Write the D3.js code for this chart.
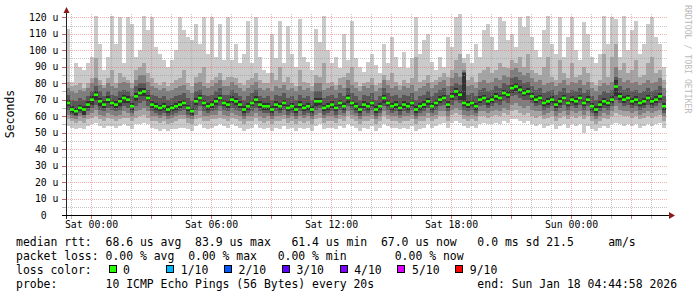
<!DOCTYPE html>
<html><head><meta charset="utf-8">
<script src="https://cdn.jsdelivr.net/npm/d3@7/dist/d3.min.js"></script>
<style>
body{margin:0;background:#fff;}
svg{display:block;font-family:"DejaVu Sans Mono",monospace;}
text{white-space:pre;}
</style></head><body>
<svg id="chart" width="697" height="297"></svg>
<script>
// SmokePing-style latency graph, 30h window ending Sun Jan 18 04:45 2026, 12-min columns.
const median = [68,64,63,65,64,67,70,73,69,67,70,68,67,69,71,70,66,72,74,75,71,67,66,65,66,64,65,66,67,68,65,63,69,71,68,66,67,69,71,68,67,70,69,67,64,66,68,70,67,66,
  66,64,67,66,68,65,66,64,67,65,66,64,69,69,65,66,67,65,68,66,71,68,66,64,67,66,68,64,66,71,68,66,67,65,67,66,68,64,66,67,69,66,68,70,71,67,72,75,73,68,
  67,68,66,70,71,69,70,72,71,74,73,77,78,76,74,75,72,70,71,68,69,70,67,69,71,68,70,69,71,68,70,66,64,67,69,68,70,78,72,70,71,69,70,68,69,71,69,70,72,66];
// sorted pings per column (ping1 = fastest ... ping10 = slowest)
const ping1 = [54,53,52,53,52,54,55,56,54,53,54,54,53,54,55,54,52,55,55,56,55,53,52,51,52,51,52,52,53,53,52,51,54,55,53,52,53,54,55,54,53,55,54,53,51,52,53,55,53,52,
  53,51,53,52,54,52,53,51,53,52,53,51,54,55,52,53,53,52,54,53,55,54,53,51,53,52,54,51,53,55,54,53,53,52,53,52,54,51,52,53,55,53,54,55,56,53,56,57,56,54,
  53,54,53,55,56,55,55,56,55,57,56,58,58,57,56,57,55,54,55,53,54,55,52,54,55,53,55,54,55,50,54,52,51,53,54,53,55,56,55,54,55,54,55,53,54,55,54,55,56,53];
const ping2 = [58,57,56,57,56,58,59,60,58,57,59,58,57,58,59,59,57,59,60,61,59,57,57,56,57,55,56,57,58,58,56,55,58,59,57,57,58,58,59,58,57,59,58,57,55,57,57,59,57,56,
  57,55,57,57,58,56,57,55,57,56,57,55,58,59,56,57,57,56,58,57,60,58,57,55,57,57,58,55,57,60,58,57,57,56,57,57,58,55,57,57,59,57,58,60,60,57,61,62,61,58,
  57,58,57,60,60,59,60,61,60,62,61,63,64,62,61,62,60,59,60,58,59,60,57,59,60,58,60,59,60,58,60,57,55,57,59,58,60,62,61,60,60,59,60,58,59,60,59,60,61,57];
const ping3 = [61,59,58,60,59,61,62,64,61,60,62,61,60,61,63,62,60,63,64,65,63,60,60,59,60,58,59,60,61,61,59,58,61,63,60,60,61,61,63,61,60,62,61,60,58,60,60,62,60,59,
  60,58,60,60,61,59,60,58,60,59,60,58,61,62,59,60,60,59,61,60,63,61,60,58,60,60,61,58,60,63,61,60,60,59,60,60,61,58,60,60,62,60,61,63,63,60,64,65,64,61,
  60,61,60,63,63,62,63,64,63,65,64,67,68,66,65,66,64,63,63,61,62,63,60,62,63,61,63,62,63,61,63,60,58,60,62,61,63,66,64,63,63,62,63,61,62,63,62,63,64,60];
const ping4 = [64,61,60,62,61,63,65,67,64,63,65,64,63,64,66,65,62,66,68,69,66,63,62,61,62,60,61,62,63,64,61,60,64,66,63,62,63,64,66,64,63,65,64,63,60,62,63,65,63,62,
  62,60,63,62,64,61,62,60,63,61,62,60,64,65,61,62,63,61,64,62,66,64,62,60,63,62,64,60,62,66,64,62,63,61,63,62,64,60,62,63,65,62,64,66,67,63,67,69,68,64,
  63,64,62,66,67,65,66,68,67,69,68,72,73,71,70,70,68,66,67,64,65,66,63,65,67,64,66,65,67,64,66,62,60,63,65,64,66,70,68,66,67,65,66,64,65,67,65,66,68,62];
const ping5 = [66,62,61,63,61,65,67,70,66,65,68,66,65,66,68,68,64,69,72,72,69,65,64,63,64,62,63,64,65,66,63,61,67,69,66,64,65,67,69,66,65,68,67,65,62,64,66,68,65,64,
  64,62,65,64,66,63,64,62,65,63,64,62,66,67,63,64,65,63,66,64,68,66,64,62,65,64,66,62,64,68,66,64,65,63,65,64,66,62,64,65,67,64,66,68,69,65,70,72,70,66,
  65,66,64,68,69,67,68,70,69,72,71,74,75,74,72,73,70,68,69,66,67,68,65,67,69,66,68,67,69,66,68,64,62,65,67,66,68,72,70,68,69,67,68,66,67,69,67,68,70,64];
const ping6 = [70,66,65,67,66,69,72,75,71,69,72,70,69,71,73,72,68,74,77,77,73,69,68,67,68,66,67,68,69,70,67,65,71,73,70,68,69,71,73,70,69,72,71,69,66,68,70,72,69,68,
  68,66,69,68,70,67,68,66,69,67,68,66,71,71,67,68,69,67,70,68,73,70,68,66,69,68,70,66,68,73,70,68,69,67,69,68,70,66,68,69,71,68,70,72,73,69,74,77,75,86,
  69,70,68,72,73,71,72,74,73,76,75,79,80,78,76,77,74,72,73,70,71,72,69,71,73,70,72,71,73,70,72,68,66,69,71,70,72,82,74,72,73,71,72,70,71,73,71,72,74,68];
const ping7 = [73,70,69,71,70,72,75,78,75,72,75,73,72,75,76,75,72,78,80,80,76,73,72,71,72,70,71,72,73,74,71,69,75,76,73,72,73,75,77,73,73,76,74,72,70,72,74,76,72,71,
  72,70,73,72,74,71,72,70,73,71,72,70,75,75,71,72,73,71,74,72,77,74,72,70,73,72,74,70,72,77,74,72,73,71,73,72,74,70,72,73,75,72,74,76,77,73,78,80,79,87,
  73,74,72,76,77,75,76,78,77,80,79,83,84,82,80,81,78,76,77,74,75,76,73,75,77,74,76,75,77,74,76,72,70,73,75,74,76,84,78,76,77,75,76,74,75,77,75,76,78,72];
const ping8 = [77,75,74,76,75,77,80,83,79,77,80,78,77,80,81,80,77,82,85,85,81,78,77,76,77,75,76,77,78,79,76,74,80,81,78,77,78,80,82,78,78,81,79,77,75,77,79,81,77,76,
  77,75,78,77,79,76,77,75,78,76,77,75,80,80,76,77,78,76,79,77,82,79,77,75,78,77,79,75,77,82,79,77,78,76,78,77,79,75,77,78,80,77,79,81,82,78,83,86,84,88,
  78,79,77,81,82,80,81,83,82,85,84,88,89,87,85,86,83,81,82,79,80,81,78,80,82,79,81,80,82,79,81,77,75,78,80,79,81,90,83,81,82,80,81,79,80,82,80,81,83,77];
const ping9 = [81,78,79,80,77,80,83,95,82,79,83,88,80,86,84,82,80,88,90,92,86,83,80,79,81,78,80,82,83,88,80,78,84,86,90,80,82,84,86,82,84,84,83,80,79,82,83,86,82,80,
  80,86,82,90,81,84,80,78,88,81,80,78,85,84,92,80,81,79,83,84,86,90,81,78,80,81,83,79,80,85,82,86,81,79,82,80,83,96,81,82,85,81,82,84,86,84,88,94,98,92,
  82,84,81,86,88,90,86,88,92,90,89,94,92,96,90,98,88,86,85,90,96,84,82,94,86,83,92,84,85,90,86,81,79,82,98,84,96,104,88,92,86,88,94,84,85,92,96,86,88,82];
const ping10 = [113,81,92,90,88,92,96,121,104,88,96,121,104,120,92,120,116,96,100,121,112,120,102,98,94,90,94,100,120,112,108,106,116,104,120,98,120,96,116,94,120,94,104,92,98,118,92,120,96,88,
  86,110,95,118,92,115,98,90,119,96,93,88,113,105,121,100,92,96,89,110,94,118,95,90,87,93,98,91,86,104,92,108,96,90,99,89,95,120,98,106,110,93,88,96,90,108,102,120,122,95,
  98,92,104,96,112,116,108,100,120,118,106,110,102,120,114,121,108,100,96,112,121,104,98,120,96,108,120,100,94,117,110,96,92,98,121,104,120,119,96,121,100,112,118,98,104,116,120,108,104,90];
const pings = [ping1, ping2, ping3, ping4, ping5, ping6, ping7, ping8, ping9, ping10];

const yTicks = d3.range(0, 121, 10);
const lossLabels = ["0", "1/10", "2/10", "3/10", "4/10", "5/10", "9/10"];
const lossColors = ["#26ff00", "#00b8ff", "#0059ff", "#5e00ff", "#7e00ff", "#dd00ff", "#ff0000"];
const legend = [
  "median rtt:  68.6 us avg  83.9 us max   61.4 us min  67.0 us now   0.0 ms sd 21.5     am/s",
  "packet loss: 0.00 % avg  0.00 % max   0.00 % min       0.00 % now",
  "loss color:",
  "probe:       10 ICMP Echo Pings (56 Bytes) every 20s               end: Sun Jan 18 04:44:58 2026"
];

const start = new Date(2026, 0, 16, 22, 45), end = new Date(2026, 0, 18, 4, 45);
const stepMin = 12, N = median.length;
const times = d3.range(N + 1).map(i => d3.timeMinute.offset(start, i * stepMin));

const svg = d3.select("#chart");
const x = d3.scaleTime().domain([start, end]).range([66, 666]);
const y = d3.scaleLinear().domain([0, 122]).range([215, 14]);
const smoke = ["#cacaca", "#a4a4a4", "#7e7e7e", "#585858", "#323232"];
const px = v => Math.round(v) + 0.5;

// smoke bands, outer pair lightest
smoke.forEach((c, k) => {
  const lo = pings[k], hi = pings[9 - k];
  const area = d3.area().curve(d3.curveStepAfter)
    .x(i => x(times[i])).y0(i => y(lo[Math.min(i, N - 1)])).y1(i => y(hi[Math.min(i, N - 1)]));
  svg.append("path").datum(d3.range(N + 1)).attr("fill", c).attr("shape-rendering", "crispEdges").attr("d", area);
});

// grid (dotted, on top of smoke)
const minorC = "rgba(150,150,150,0.55)", majorC = "rgba(235,80,80,0.45)";
const g = svg.append("g").attr("stroke-dasharray", "1,1").attr("stroke-width", 1);
d3.range(0, 121, 5).filter(v => v > 0).forEach(v => {
  g.append("line").attr("x1", 66).attr("x2", 667).attr("y1", px(y(v))).attr("y2", px(y(v)))
    .attr("stroke", v % 10 ? minorC : majorC);
});
x.ticks(d3.timeHour.every(1)).forEach(t => {
  g.append("line").attr("x1", px(x(t))).attr("x2", px(x(t))).attr("y1", 14).attr("y2", 215)
    .attr("stroke", t.getHours() % 3 ? minorC : majorC);
});

// median, coloured by loss
svg.append("g").selectAll("rect").data(median).join("rect")
  .attr("x", (d, i) => x(times[i])).attr("width", (d, i) => x(times[i + 1]) - x(times[i]))
  .attr("y", d => y(d) - 1.3).attr("height", 2.6).attr("fill", lossColors[0]);

// small ticks outside the axes
const tk = svg.append("g");
d3.range(0, 121, 5).forEach(v => tk.append("line").attr("x1", 62).attr("x2", 66)
  .attr("y1", px(y(v))).attr("y2", px(y(v))).attr("stroke", v % 10 ? "#bbb" : "#c66"));
x.ticks(d3.timeHour.every(1)).forEach(t => tk.append("line").attr("x1", px(x(t))).attr("x2", px(x(t)))
  .attr("y1", 215).attr("y2", 219).attr("stroke", t.getHours() % 3 ? "#bbb" : "#c66"));

// axes
svg.append("line").attr("x1", 66.5).attr("x2", 66.5).attr("y1", 219).attr("y2", 11).attr("stroke", "#222");
svg.append("line").attr("x1", 62).attr("x2", 670).attr("y1", 215.5).attr("y2", 215.5).attr("stroke", "#000");
svg.append("path").attr("d", "M63.5,13L69.5,13L66.5,7Z").attr("fill", "#8b1a1a");
svg.append("path").attr("d", "M669,212L669,219L675,215.5Z").attr("fill", "#8b1a1a");

const yAxis = svg.append("g").attr("transform", "translate(66,0)")
  .call(d3.axisLeft(y).tickValues(yTicks).tickSize(0).tickPadding(7.5)
    .tickFormat(v => v === 0 ? "0  " : v + " u"));
yAxis.select(".domain").remove();
yAxis.selectAll("text").attr("font-family", "DejaVu Sans Mono").attr("font-size", "9.8px").attr("fill", "#000");

const xAxis = svg.append("g").attr("transform", "translate(0,215)")
  .call(d3.axisBottom(x).ticks(d3.timeHour.every(6)).tickSize(0).tickPadding(6.5)
    .tickFormat(d3.timeFormat("%a %H:%M")));
xAxis.select(".domain").remove();
xAxis.selectAll("text").attr("font-family", "DejaVu Sans Mono").attr("font-size", "9.8px").attr("fill", "#000");

svg.append("text").attr("transform", "translate(13.5,114) rotate(-90)").attr("text-anchor", "middle")
  .attr("font-size", "11.5px").text("Seconds");
svg.append("text").attr("transform", "translate(685,5) rotate(90)").attr("font-size", "8.2px")
  .attr("fill", "#bbb").text("RRDTOOL / TOBI OETIKER");

// legend
svg.append("g").selectAll("text").data(legend).join("text")
  .attr("x", 16).attr("y", (d, i) => 245.5 + i * 14).attr("font-size", "11.45px").attr("fill", "#000").text(d => d);
const lx = d3.scalePoint().domain(lossLabels).range([108.5, 108.5 + 6 * 57.8]);
const li = svg.append("g").selectAll("g").data(lossLabels).join("g");
li.append("rect").attr("x", d => Math.round(lx(d)) + 0.5).attr("y", 265.5).attr("width", 7).attr("height", 7)
  .attr("fill", (d, i) => lossColors[i]).attr("stroke", "#000");
li.append("text").attr("x", d => lx(d) + 14.5).attr("y", 273.5).attr("font-size", "11.45px").text(d => d);
</script>
</body></html>
